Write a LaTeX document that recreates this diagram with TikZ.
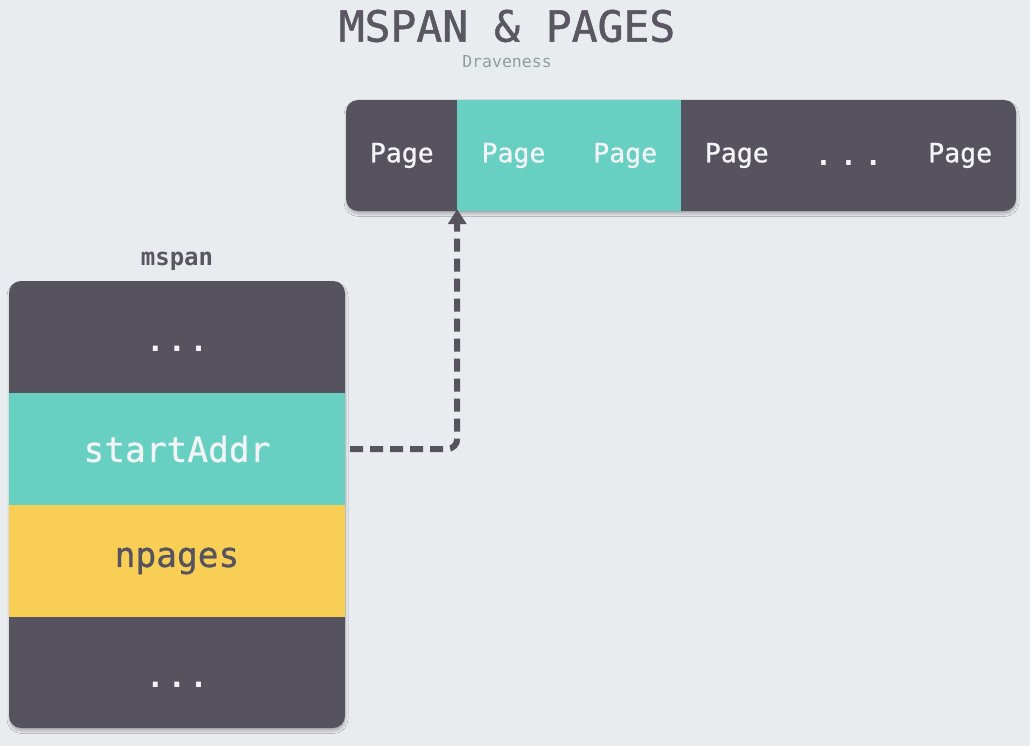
\documentclass[tikz,border=0pt]{standalone}
\usepackage{fontspec}
\setmonofont{DejaVu Sans Mono}
\usetikzlibrary{arrows.meta,shadows.blur}

\definecolor{bgc}{HTML}{E9ECEF}
\definecolor{slate}{HTML}{56535F}
\definecolor{mint}{HTML}{67D0C2}
\definecolor{sun}{HTML}{F9CE55}
\definecolor{titlec}{HTML}{5A5763}
\definecolor{authorc}{HTML}{8F9E9E}
\definecolor{lighttext}{HTML}{F2F4F5}

% three evenly spaced dots
\newcommand{\gapdots}[1]{.\hspace{#1}.\hspace{#1}.}

\tikzset{
  soft shadow/.style={blur shadow={shadow xshift=0.5pt, shadow yshift=-3pt,
      shadow blur radius=2.5pt, shadow blur steps=5, shadow opacity=25}},
  panel/.style={fill=slate, rounded corners=12pt, soft shadow, inner sep=0pt},
  cell/.style={minimum width=111.67pt, minimum height=111pt, inner sep=0pt,
      text=lighttext, font=\ttfamily\fontsize{26.5}{30}\selectfont\addfontfeature{FakeBold=0.8}},
  field/.style={minimum width=336pt, minimum height=112pt, inner sep=0pt,
      text=lighttext, font=\ttfamily\fontsize{34.5}{40}\selectfont\addfontfeature{FakeBold=0.8}},
  dotfield/.style={field, font=\ttfamily\bfseries\fontsize{30}{36}\selectfont,
      text height=29pt, text depth=0pt},
  link/.style={draw=slate, line width=6pt, dash pattern=on 13pt off 7pt,
      rounded corners=10pt, -{Triangle[length=15pt,width=18pt]}},
}

\begin{document}
\begin{tikzpicture}[x=1pt,y=-1pt]
  % canvas
  \fill[bgc] (0,0) rectangle (1030,746);
  \useasboundingbox (0,0) rectangle (1030,746);

  % heading
  \node[text=titlec, font=\ttfamily\fontsize{43}{50}\selectfont\addfontfeature{FakeBold=1.2}] (title) at (507,26) {MSPAN \& PAGES};
  \node[text=authorc, font=\ttfamily\fontsize{16.5}{19}\selectfont] (author) at (507,62) {Draveness};

  % row of pages
  \node[panel, minimum width=670pt, minimum height=111pt] (bar) at (681,155.5) {};
  \node[cell] (p1) at (401.8,155.5) {Page};
  \node[cell, fill=mint, minimum width=112.2pt] (p2) at (513.5,155.5) {Page};
  \node[cell, fill=mint] (p3) at (625.2,155.5) {Page};
  \node[cell] (p4) at (736.8,155.5) {Page};
  \node[cell, font=\ttfamily\bfseries\fontsize{28}{30}\selectfont, text height=21pt, text depth=0pt] (p5) at (848.5,155.5) {\gapdots{8pt}};
  \node[cell] (p6) at (960.2,155.5) {Page};

  % mspan structure
  \node[text=titlec, font=\ttfamily\bfseries\fontsize{24}{28}\selectfont] (label) at (177,261) {mspan};
  \node[panel, minimum width=336pt, minimum height=447pt] (box) at (177,504.5) {};
  \node[dotfield] (r1) at (177,337) {\gapdots{3.5pt}};
  \node[field, fill=mint] (r2) at (177,449) {startAddr};
  \node[field, fill=sun, text=slate] (r3) at (177,561) {npages};
  \node[dotfield] (r4) at (177,672.5) {\gapdots{3.5pt}};

  % pointer from startAddr to the first page of the span
  \draw[link] ([xshift=5pt]r2.east) -| ([yshift=2pt]p2.south west);
\end{tikzpicture}
\end{document}
